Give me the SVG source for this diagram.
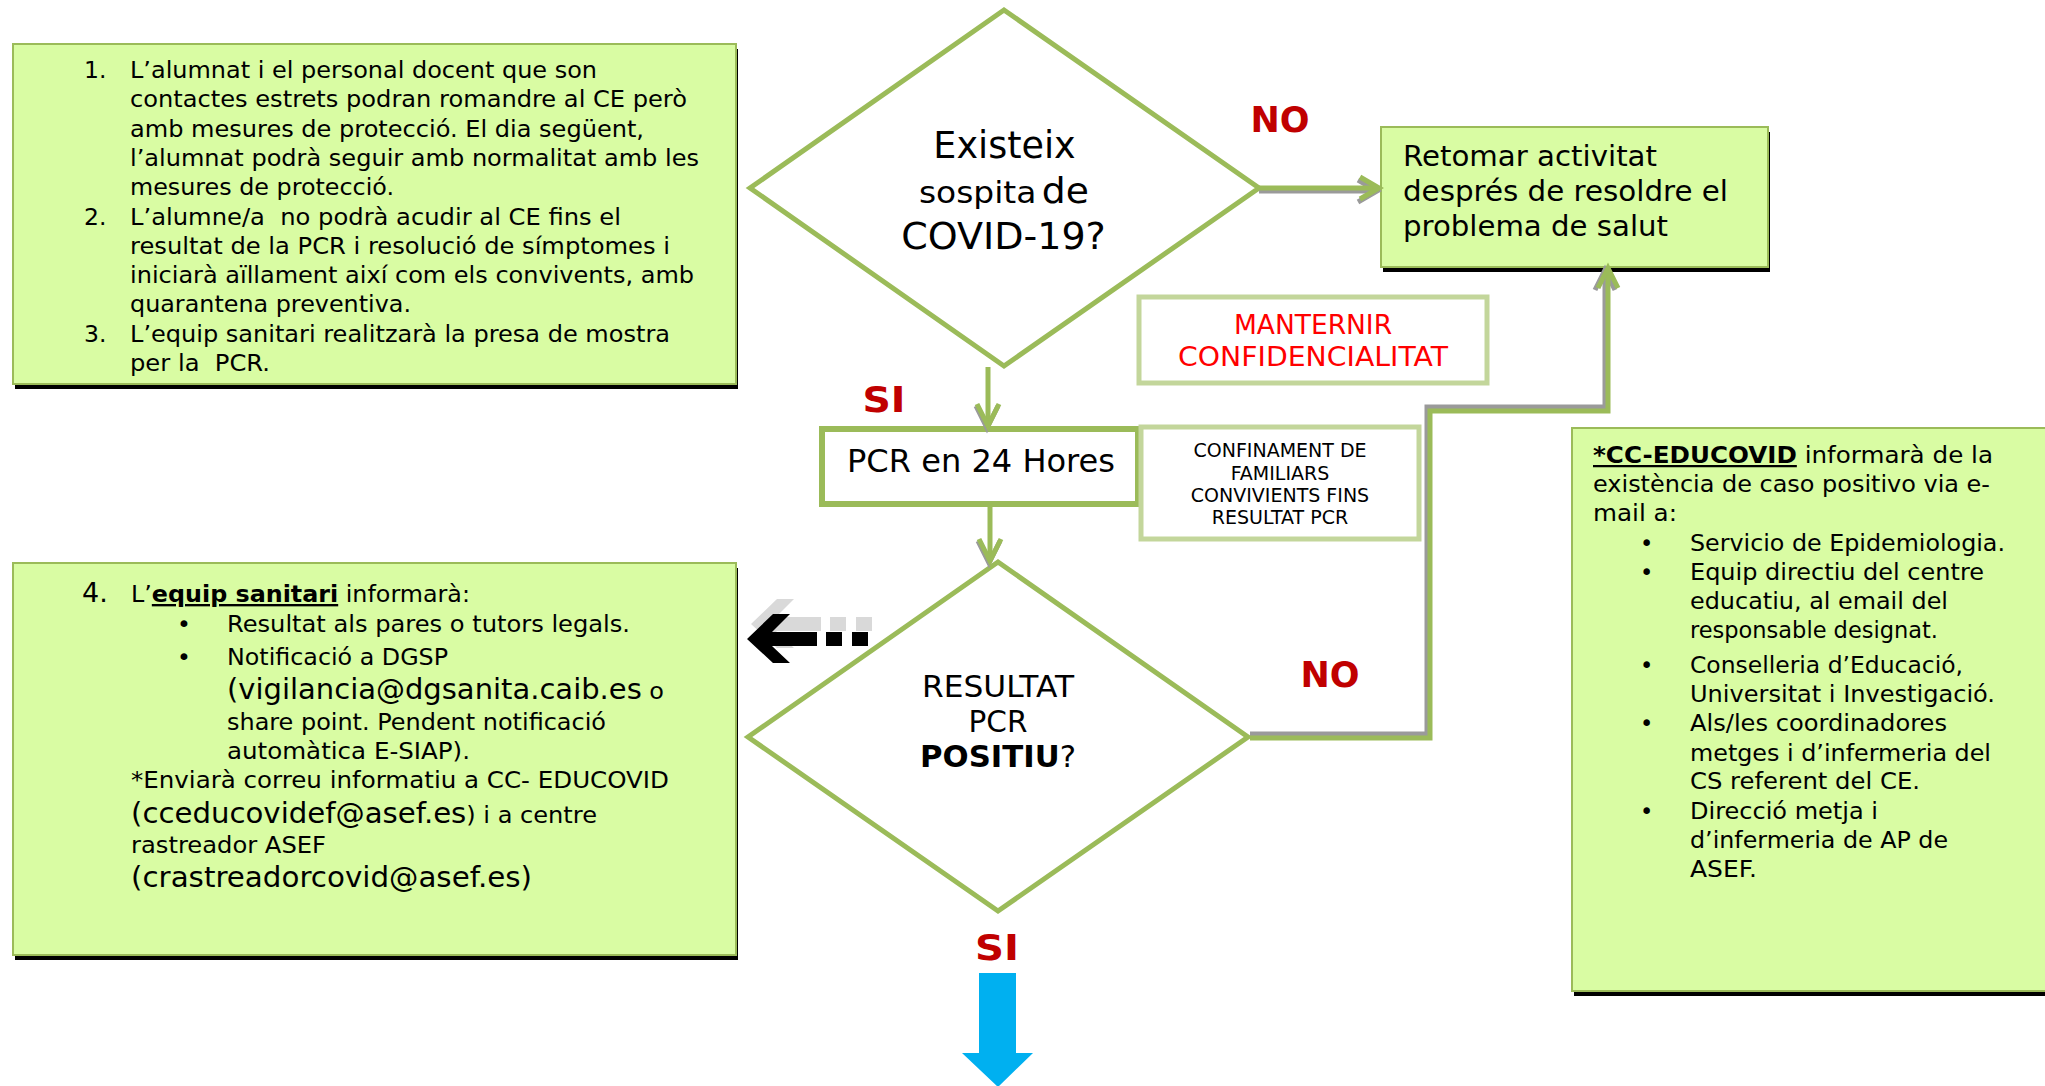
<svg xmlns="http://www.w3.org/2000/svg" width="2045" height="1086" viewBox="0 0 2045 1086">
<style>
text{font-family:"DejaVu Sans","Verdana",sans-serif;fill:#000}
.box{fill:#D9FCA3;stroke:#9BBB59;stroke-width:2}
.shd{fill:#000}
.b1{font-size:23.5px}
.em{font-size:28.5px}
.cc{font-size:22.5px}
.lbl{font-weight:bold;fill:#C00000;font-size:35px;text-anchor:middle}
.dia{fill:#fff;stroke:#9BBB59;stroke-width:5}
.pale{fill:#fff;stroke:#C3D69B;stroke-width:5}
.con{fill:none;stroke:#9BBB59;stroke-width:5;stroke-linejoin:miter}
.sh{fill:none;stroke:#9A9A9A;stroke-width:5}
.mid{text-anchor:middle}
</style>

<g id="box-steps">
<rect class="shd" x="15" y="49" width="723" height="340"/>
<rect class="box" x="13" y="44" width="723" height="340"/>
<text class="b1" x="84" y="78">1.</text>
<text class="b1" x="84" y="224.5">2.</text>
<text class="b1" x="84" y="341.7">3.</text>
<text class="b1" x="130" y="78" textLength="467" lengthAdjust="spacingAndGlyphs">L’alumnat i el personal docent que son</text>
<text class="b1" x="130" y="107.3" textLength="557" lengthAdjust="spacingAndGlyphs">contactes estrets podran romandre al CE però</text>
<text class="b1" x="130" y="136.6" textLength="514" lengthAdjust="spacingAndGlyphs">amb mesures de protecció. El dia següent,</text>
<text class="b1" x="130" y="165.9" textLength="569" lengthAdjust="spacingAndGlyphs">l’alumnat podrà seguir amb normalitat amb les</text>
<text class="b1" x="130" y="195.2" textLength="264" lengthAdjust="spacingAndGlyphs">mesures de protecció.</text>
<text class="b1" x="130" y="224.5" xml:space="preserve" textLength="491" lengthAdjust="spacingAndGlyphs">L’alumne/a  no podrà acudir al CE fins el</text>
<text class="b1" x="130" y="253.8" textLength="540" lengthAdjust="spacingAndGlyphs">resultat de la PCR i resolució de símptomes i</text>
<text class="b1" x="130" y="283.1" textLength="564" lengthAdjust="spacingAndGlyphs">iniciarà aïllament així com els convivents, amb</text>
<text class="b1" x="130" y="312.4" textLength="281" lengthAdjust="spacingAndGlyphs">quarantena preventiva.</text>
<text class="b1" x="130" y="341.7" textLength="540" lengthAdjust="spacingAndGlyphs">L’equip sanitari realitzarà la presa de mostra</text>
<text class="b1" x="130" y="371" xml:space="preserve" textLength="140" lengthAdjust="spacingAndGlyphs">per la  PCR.</text>
</g>

<g id="box-informa">
<rect class="shd" x="15" y="568" width="723" height="392"/>
<rect class="box" x="13" y="563" width="723" height="392"/>
<text x="82" y="602" style="font-size:27px">4.</text>
<text class="b1" x="131" y="602" textLength="339" lengthAdjust="spacingAndGlyphs">L’<tspan font-weight="bold" text-decoration="underline">equip sanitari</tspan> informarà:</text>
<text class="b1" x="177" y="632">•</text>
<text class="b1" x="177" y="665">•</text>
<text class="b1" x="227" y="632" textLength="403" lengthAdjust="spacingAndGlyphs">Resultat als pares o tutors legals.</text>
<text class="b1" x="227" y="665" textLength="221" lengthAdjust="spacingAndGlyphs">Notificació a DGSP</text>
<text class="b1" x="227" y="699" textLength="437" lengthAdjust="spacingAndGlyphs"><tspan class="em">(vigilancia@dgsanita.caib.es</tspan> o</text>
<text class="b1" x="227" y="730" textLength="379" lengthAdjust="spacingAndGlyphs">share point. Pendent notificació</text>
<text class="b1" x="227" y="759" textLength="243" lengthAdjust="spacingAndGlyphs">automàtica E-SIAP).</text>
<text class="b1" x="131" y="788" textLength="538" lengthAdjust="spacingAndGlyphs">*Enviarà correu informatiu a CC- EDUCOVID</text>
<text class="b1" x="131" y="823" textLength="466" lengthAdjust="spacingAndGlyphs"><tspan class="em">(cceducovidef@asef.es</tspan>) i a centre</text>
<text class="b1" x="131" y="853" textLength="195" lengthAdjust="spacingAndGlyphs">rastreador ASEF</text>
<text class="em" x="131" y="887" textLength="401" lengthAdjust="spacingAndGlyphs">(crastreadorcovid@asef.es)</text>
</g>

<g id="box-ccedu">
<rect class="shd" x="1574" y="433" width="480" height="563"/>
<rect class="box" x="1572" y="428" width="480" height="563"/>
<text class="cc" x="1593" y="463" textLength="400" lengthAdjust="spacingAndGlyphs"><tspan font-weight="bold" text-decoration="underline">*CC-EDUCOVID</tspan> informarà de la</text>
<text class="cc" x="1593" y="492" textLength="397" lengthAdjust="spacingAndGlyphs">existència de caso positivo via e-</text>
<text class="cc" x="1593" y="521" textLength="84" lengthAdjust="spacingAndGlyphs">mail a:</text>
<text class="cc" x="1640" y="551">•</text>
<text class="cc" x="1640" y="580">•</text>
<text class="cc" x="1640" y="673">•</text>
<text class="cc" x="1640" y="731">•</text>
<text class="cc" x="1640" y="819">•</text>
<text class="cc" x="1690" y="551" textLength="315" lengthAdjust="spacingAndGlyphs">Servicio de Epidemiologia.</text>
<text class="cc" x="1690" y="580" textLength="294" lengthAdjust="spacingAndGlyphs">Equip directiu del centre</text>
<text class="cc" x="1690" y="609" textLength="258" lengthAdjust="spacingAndGlyphs">educatiu, al email del</text>
<text class="cc" x="1690" y="638" textLength="248" lengthAdjust="spacingAndGlyphs">responsable designat.</text>
<text class="cc" x="1690" y="673" textLength="273" lengthAdjust="spacingAndGlyphs">Conselleria d’Educació,</text>
<text class="cc" x="1690" y="702" textLength="305" lengthAdjust="spacingAndGlyphs">Universitat i Investigació.</text>
<text class="cc" x="1690" y="731" textLength="257" lengthAdjust="spacingAndGlyphs">Als/les coordinadores</text>
<text class="cc" x="1690" y="761" textLength="301" lengthAdjust="spacingAndGlyphs">metges i d’infermeria del</text>
<text class="cc" x="1690" y="789" textLength="230" lengthAdjust="spacingAndGlyphs">CS referent del CE.</text>
<text class="cc" x="1690" y="819" textLength="188" lengthAdjust="spacingAndGlyphs">Direcció metja i</text>
<text class="cc" x="1690" y="848" textLength="258" lengthAdjust="spacingAndGlyphs">d’infermeria de AP de</text>
<text class="cc" x="1690" y="877" textLength="67" lengthAdjust="spacingAndGlyphs">ASEF.</text>
</g>

<g id="box-retomar">
<rect class="shd" x="1383" y="132" width="387" height="140"/>
<rect class="box" x="1381" y="127" width="387" height="140"/>
<text x="1403" y="166" style="font-size:29px" textLength="254" lengthAdjust="spacingAndGlyphs">Retomar activitat</text>
<text x="1403" y="201" style="font-size:29px" textLength="325" lengthAdjust="spacingAndGlyphs">després de resoldre el</text>
<text x="1403" y="236" style="font-size:29px" textLength="265" lengthAdjust="spacingAndGlyphs">problema de salut</text>
</g>

<g id="diamond-sospita">
<polygon class="dia" points="1004,10 1259,188 1004,366 750,188"/>
<text class="mid" x="1004.5" y="158" style="font-size:36.5px">Existeix</text>
<text class="mid" x="1004" y="203" textLength="170" lengthAdjust="spacingAndGlyphs"><tspan style="font-size:30.5px">sospita</tspan> <tspan style="font-size:35px">de</tspan></text>
<text class="mid" x="1003.5" y="249" style="font-size:38px">COVID-19?</text>
</g>

<g id="box-manternir">
<rect class="pale" x="1139" y="297" width="348" height="86"/>
<text class="mid" x="1313" y="334" style="font-size:26.5px;fill:#FF0000">MANTERNIR</text>
<text class="mid" x="1313" y="366" style="font-size:26.5px;fill:#FF0000" textLength="270" lengthAdjust="spacingAndGlyphs">CONFIDENCIALITAT</text>
</g>

<g id="box-pcr">
<rect x="822" y="429" width="316" height="75" fill="#fff" stroke="#9BBB59" stroke-width="6"/>
<text class="mid" x="981" y="472" style="font-size:32px" textLength="268" lengthAdjust="spacingAndGlyphs">PCR en 24 Hores</text>
</g>

<g id="box-confinament">
<rect class="pale" x="1141" y="427" width="278" height="112"/>
<text class="mid" x="1280" y="457" style="font-size:19px">CONFINAMENT DE</text>
<text class="mid" x="1280" y="480" style="font-size:19px">FAMILIARS</text>
<text class="mid" x="1280" y="502" style="font-size:19px">CONVIVIENTS FINS</text>
<text class="mid" x="1280" y="524" style="font-size:19px">RESULTAT PCR</text>
</g>

<g id="diamond-resultat">
<polygon class="dia" points="998,562 1248,737 998,911 748,737"/>
<text class="mid" x="998" y="697" style="font-size:29.5px" textLength="152" lengthAdjust="spacingAndGlyphs">RESULTAT</text>
<text class="mid" x="998" y="732" style="font-size:29.5px">PCR</text>
<text class="mid" x="998" y="767" style="font-size:29.5px" textLength="156" lengthAdjust="spacingAndGlyphs"><tspan font-weight="bold">POSITIU</tspan>?</text>
</g>

<g id="connectors">
<line class="sh" x1="1259" y1="191" x2="1376" y2="191"/>
<polyline class="sh" points="1358,180 1377,191 1358,202"/>
<line class="con" x1="1259" y1="188" x2="1377" y2="188"/>
<polyline class="con" points="1360,177 1379,188 1360,199"/>
<polyline class="sh" points="976,406 987,428 998,406"/>
<line class="con" x1="988" y1="367" x2="988" y2="426"/>
<polyline class="con" points="977,404 988,426 999,404"/>
<polyline class="sh" points="978,541 989,563 1000,541"/>
<line class="con" x1="990" y1="507" x2="990" y2="561"/>
<polyline class="con" points="979,539 990,561 1001,539"/>
<polyline class="sh" points="1250,734 1427,734 1427,407 1605,407 1605,272"/>
<polyline class="sh" points="1595,290 1605,270 1615,290"/>
<polyline class="con" points="1250,738 1430,738 1430,411 1608,411 1608,270"/>
<polyline class="con" points="1598,288 1608,268 1618,288"/>
<polygon fill="#00B0F0" points="979,973 1016,973 1016,1053 1033,1053 998,1087 962,1053 979,1053"/>
<g fill="#D9D9D9" transform="translate(4,-15)">
<polygon points="773,614 790,614 772,632 817,632 817,646 772,646 790,663 773,663 747,639"/>
<rect x="826" y="632" width="16" height="14"/>
<rect x="852" y="632" width="16" height="14"/>
</g>
<g fill="#000">
<polygon points="773,614 790,614 772,632 817,632 817,646 772,646 790,663 773,663 747,639"/>
<rect x="826" y="632" width="16" height="14"/>
<rect x="852" y="632" width="16" height="14"/>
</g>
</g>

<g id="labels">
<text class="lbl" x="1280" y="132">NO</text>
<text class="lbl" x="884" y="412" textLength="43" lengthAdjust="spacingAndGlyphs">SI</text>
<text class="lbl" x="1330" y="687">NO</text>
<text class="lbl" x="997" y="960" textLength="44" lengthAdjust="spacingAndGlyphs">SI</text>
</g>
</svg>
